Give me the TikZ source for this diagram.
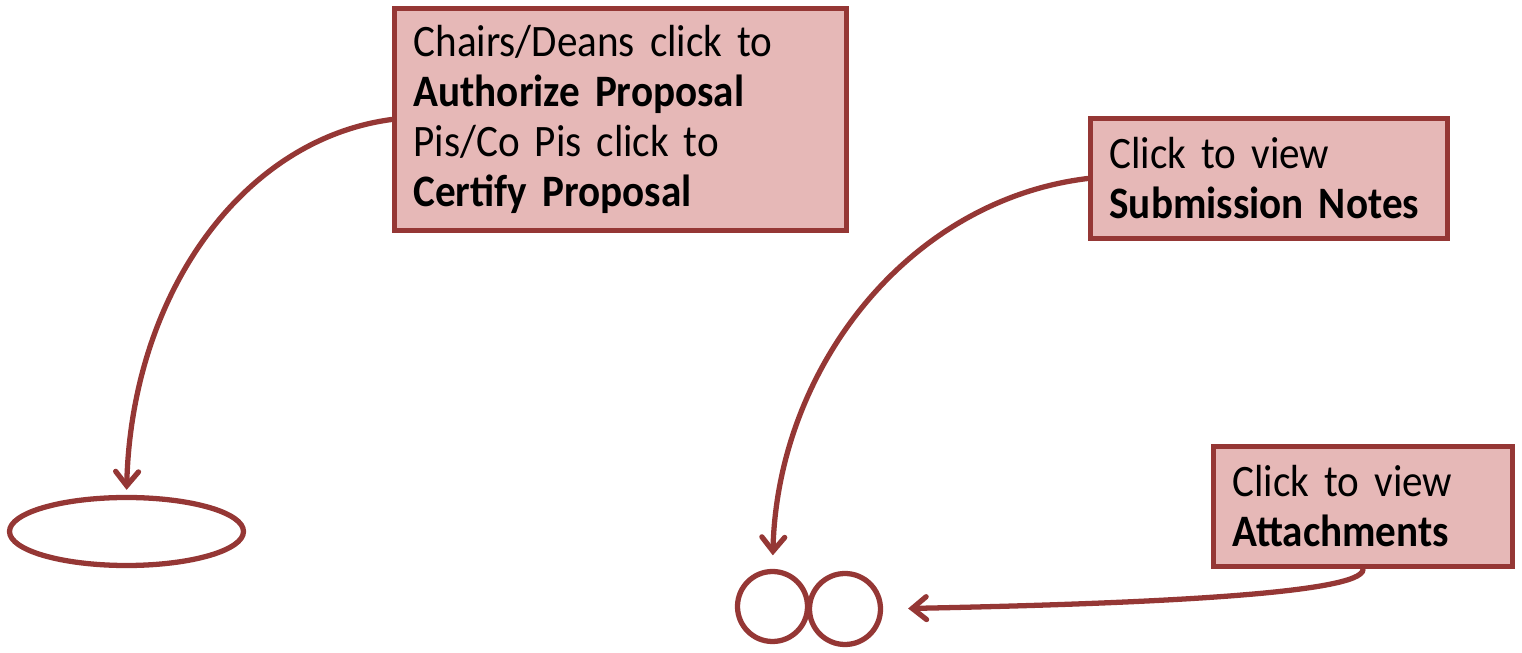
\documentclass[tikz,border=0pt]{standalone}
\usepackage{fontspec}
\setmainfont{Carlito}[FakeStretch=0.915]
\usetikzlibrary{arrows.meta, shapes.geometric, positioning}
\definecolor{notefill}{HTML}{E6B8B7}
\definecolor{noteline}{HTML}{953735}

\begin{document}
\begin{tikzpicture}[
  box/.style = {
    draw=noteline, fill=notefill, line width=3.3pt, align=left,
    inner xsep=0.38cm, inner ysep=0pt,
    font=\fontsize{25.6}{28.5}\selectfont
  },
  note box/.style = {box, minimum height=2.4cm},
  target/.style = {draw=noteline, line width=3pt, inner sep=0pt},
  arr/.style = {-{Straight Barb[length=8pt, width=13pt, line cap=round]},
    draw=noteline, line width=3pt, line cap=round},
]
\useasboundingbox (0,0) rectangle (30.44,-13.06);

\node[box, minimum width=9.04cm, minimum height=4.44cm, text width=8.28cm]
  (authbox) at (12.41,-2.39)
  {Chairs/Deans click to\\ \textbf{Authorize Proposal}\\ Pis/Co Pis click to\\ \textbf{Certify Proposal}};
\node[note box, minimum width=7.14cm, text width=6.38cm]
  (notesbox) at (25.38,-3.57)
  {Click to view\\ \textbf{Submission Notes}};
\node[note box, minimum width=5.98cm, text width=5.22cm]
  (attachbox) at (27.26,-10.13)
  {Click to view\\ \textbf{Attachments}};

\node[target, ellipse, minimum width=4.68cm, minimum height=1.36cm] (authoval) at (2.53,-10.63) {};
\node[target, circle, minimum size=1.4cm] (notescirc)  at (15.45,-12.13) {};
\node[target, circle, minimum size=1.42cm] (attachcirc) at (16.9,-12.18) {};

\draw[arr, shorten >=0.1cm] (authbox.west) .. controls +(-3.0,-0.4) and +(0.1,4.0) .. (authoval.north);
\draw[arr, shorten >=0.27cm] (notesbox.west) .. controls +(-3.6,-0.44) and +(0.1,4.0) .. (notescirc.north);
\draw[arr, shorten >=0.5cm] (attachbox.south) .. controls +(0,-0.5) and +(5.0,0.1) .. (attachcirc.east);

\end{tikzpicture}
\end{document}
